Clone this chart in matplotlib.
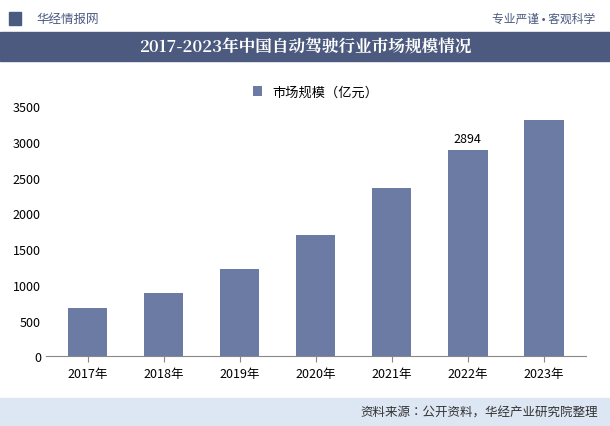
import matplotlib.pyplot as plt
from matplotlib import font_manager

names = sorted({f.name for f in font_manager.fontManager.ttflist if "CJK" in f.name})
sans = [n for n in names if "Sans" in n and ("SC" in n or "JP" in n)] or [n for n in names if "Sans" in n]
serif = [n for n in names if "Serif" in n]
plt.rcParams["font.family"] = sans[:1] + ["Noto Sans CJK SC", "DejaVu Sans"]
title_font = serif[:1] + sans[:1]

years = ["2017年", "2018年", "2019年", "2020年", "2021年", "2022年", "2023年"]
market = [670, 880, 1220, 1700, 2350, 2894, 3300]

fig = plt.figure(figsize=(6.10, 4.27), dpi=100)

# header strip
fig.text(0.06, 0.955, "华经情报网", fontsize=9, color="#4a5a80", va="center")
fig.text(0.975, 0.955, "专业严谨 • 客观科学", fontsize=8.5, color="#4a5a80", va="center", ha="right")
fig.patches.append(plt.Rectangle((0.015, 0.94), 0.02, 0.03, transform=fig.transFigure, color="#4a5a80"))
# title bar
fig.patches.append(plt.Rectangle((0.0, 0.855), 1.0, 0.068, transform=fig.transFigure, color="#4b5a7e"))
fig.text(0.5, 0.889, "2017-2023年中国自动驾驶行业市场规模情况", fontsize=12, color="white",
         weight="bold", ha="center", va="center", family=title_font)
# footer bar
fig.patches.append(plt.Rectangle((0.0, 0.0), 1.0, 0.065, transform=fig.transFigure, color="#dde6f3"))
fig.text(0.98, 0.033, "资料来源：公开资料，华经产业研究院整理", fontsize=9, color="#333333",
         ha="right", va="center")

ax = fig.add_axes([0.075, 0.163, 0.885, 0.586])
bars = ax.bar(years, market, width=0.52, color="#6b7ba3", label="市场规模（亿元）")
ax.set_ylim(0, 3500)
ax.set_yticks(range(0, 3501, 500))
ax.set_xlim(-0.55, 6.55)
for s in ["top", "right", "left"]:
    ax.spines[s].set_visible(False)
ax.spines["bottom"].set_color("#888888")
ax.tick_params(axis="y", length=0, labelsize=9)
ax.tick_params(axis="x", length=4, labelsize=9, color="#888888")
ax.text(5, market[5] + 60, str(market[5]), ha="center", va="bottom", fontsize=9)
ax.legend(loc="upper center", bbox_to_anchor=(0.5, 1.13), frameon=False, fontsize=9.5,
          handlelength=0.7, handleheight=0.7)

fig.savefig("out.png", dpi=100)
